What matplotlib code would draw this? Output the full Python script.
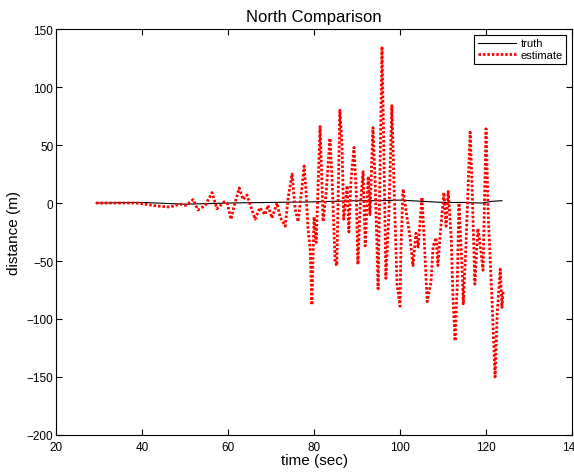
import matplotlib.pyplot as plt

plt.rcParams['font.family'] = ['Liberation Sans', 'DejaVu Sans']

# truth trajectory (near zero)
t_truth = [29.3, 40, 50, 60, 70, 80, 90, 95, 100, 105, 110, 115, 119, 121.5, 123.7]
north_truth = [0, 0.5, -1, 0, 0.5, 1, 2, 2, 2.5, 1.5, 0.5, 0.5, 0, 1.5, 2]

# estimate (turning points)
t_est = [29.3, 38.6, 40.7, 43.3, 46.5, 48.8, 50.2, 51.9, 53.0, 54.7,
         56.3, 57.4, 59.1, 59.8, 60.7, 61.4, 62.6, 63.5, 64.4, 65.1,
         66.3, 67.4, 68.6, 69.3, 70.2, 71.4, 72.1, 73.3, 74.0, 74.9,
         75.6, 76.3, 77.2, 77.7, 78.1, 78.6, 79.1, 79.5, 80.0, 80.5,
         80.9, 81.4, 81.9, 82.1, 82.8, 83.7, 84.2, 84.9, 85.3, 86.0,
         86.5, 86.9, 87.7, 88.1, 88.6, 89.3, 89.8, 90.2, 90.7, 91.4,
         91.9, 92.6, 93.0, 93.7, 94.2, 94.9, 95.8, 96.3, 96.7, 97.4,
         98.1, 98.6, 99.3, 100.0, 100.2, 100.7, 101.6, 102.3, 103.0, 103.7,
         104.2, 105.1, 105.6, 106.3, 107.2, 107.7, 108.4, 108.8, 109.5, 110.2,
         110.7, 111.2, 111.9, 112.3, 112.8, 113.3, 113.7, 114.4, 114.7, 115.3,
         116.3, 116.7, 117.4, 118.1, 118.6, 119.3, 120.0, 120.5, 121.4, 122.1,
         122.6, 123.3, 123.7, 124.0]
north_est = [0, 0, -1, -2.5, -3.5, -1, -2, 3, -6, -2,
             9, -5, 1, 0, -14, -3, 13, 3, 7, -1,
             -14, -4, -10, -2, -13, 0, -12, -20, 5, 25,
             -5, -16, 14, 32, 12, -22, -40, -88, -12, -34,
             10, 66, 10, -16, 8, 56, 20, -51, -54, 80,
             50, -14, 15, -25, 20, 48, 10, -53, -5, 27,
             -37, 23, -10, 65, 20, -74, 135, 30, -65, -10,
             84, 15, -70, -89, -40, 12, -12, -29, -54, -26,
             -38, 5, -30, -85, -68, -37, -30, -54, -20, 9,
             -20, 10, -30, -80, -119, -70, 0, -54, -87, -40,
             61, 20, -70, -22, -35, -58, 64, -10, -85, -150,
             -95, -57, -90, -75]

fig = plt.figure(figsize=(5.74, 4.77), dpi=100)
ax = fig.add_axes([0.0976, 0.086, 0.899, 0.851])

ax.plot(t_truth, north_truth, 'k-', lw=0.8, label='truth')
ax.plot(t_est, north_est, color='red', ls=(0, (0.9, 0.7)), lw=2,
        label='estimate')

ax.set_xlim(20, 140)
ax.set_ylim(-200, 150)
ax.set_xticks(range(20, 141, 20))
ax.set_yticks(range(-200, 151, 50))
ax.tick_params(direction='in', top=True, right=True, labelsize=8.5,
               length=4)
ax.tick_params(axis='x', pad=4)
ax.tick_params(axis='y', pad=2)
for s in ax.spines.values():
    s.set_linewidth(0.8)

ax.set_xlabel('time (sec)', fontsize=11, labelpad=0)
ax.set_ylabel('distance (m)', fontsize=11, labelpad=4)
ax.set_title('North Comparison', fontsize=12, pad=6)

leg = ax.legend(loc='upper right', fontsize=8, fancybox=False, framealpha=1,
                edgecolor='black', handlelength=3.4, borderpad=0.35,
                labelspacing=0.15, borderaxespad=0.5, handletextpad=0.4)
leg.get_frame().set_linewidth(0.8)

fig.savefig('out.png', dpi=100)
